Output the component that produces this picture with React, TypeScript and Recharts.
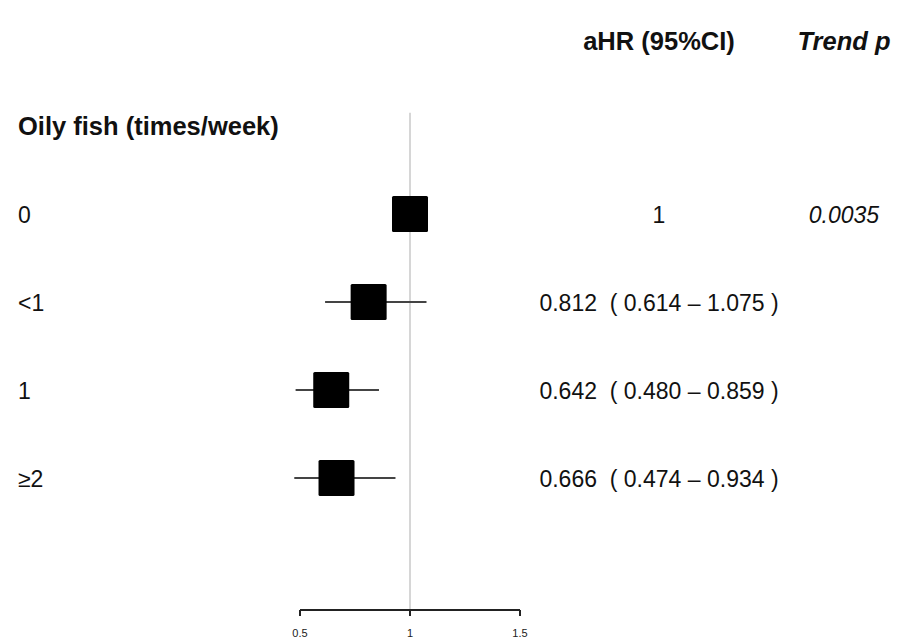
import React from "react";
import {
  ScatterChart,
  Scatter,
  XAxis,
  YAxis,
  ErrorBar,
  ReferenceLine,
} from "recharts";

const groups = ["0", "<1", "1", "≥2"];
const hr = [1, 0.812, 0.642, 0.666];
const lower = [1, 0.614, 0.48, 0.474];
const upper = [1, 1.075, 0.859, 0.934];
const ciText = [
  "1",
  "0.812\u00a0 ( 0.614 – 1.075 )",
  "0.642\u00a0 ( 0.480 – 0.859 )",
  "0.666\u00a0 ( 0.474 – 0.934 )",
];
const trendP = ["0.0035", "", "", ""];
const xTicks = [0.5, 1, 1.5];

const data = groups.map((g, i) => ({
  row: i,
  hr: hr[i],
  err: [hr[i] - lower[i], upper[i] - hr[i]],
}));

// rows holding the text columns (-2 = column headers, -1 = group header)
const textRows = [-2, -1, 0, 1, 2, 3].map((r) => ({ row: r, pos: 0.5 }));

const FONT = "'Liberation Sans', Arial, sans-serif";

const Box = (props: any) => {
  const { cx, cy } = props;
  if (cx == null || cy == null) return null;
  return <rect x={cx - 18} y={cy - 18} width={36} height={36} rx={1.5} fill="#000" />;
};

const XTick = (props: any) => {
  const { x, y, payload } = props;
  return (
    <text x={x} y={y + 19} textAnchor="middle" fontFamily={FONT} fontSize={11} fill="#222">
      {String(payload.value)}
    </text>
  );
};

const RowText = (props: any) => {
  const { cy, payload } = props;
  const v = payload.row;
  const y = cy;
  if (v === -2) {
    return (
      <g fontFamily={FONT} fontWeight="bold" fontSize={25.5} fill="#111">
        <text x={659} y={y + 12} textAnchor="middle">aHR (95%CI)</text>
        <text x={844} y={y + 12} textAnchor="middle" fontStyle="italic">Trend p</text>
      </g>
    );
  }
  if (v === -1) {
    return (
      <text x={18} y={y + 9} fontFamily={FONT} fontWeight="bold" fontSize={25.5} fill="#111">
        Oily fish (times/week)
      </text>
    );
  }
  const i = v as number;
  return (
    <g fontFamily={FONT} fontSize={23} fill="#111">
      <text x={18} y={y + 9}>{groups[i]}</text>
      <text x={659} y={y + 9} textAnchor="middle">{ciText[i]}</text>
      {trendP[i] && (
        <text x={844} y={y + 9} textAnchor="middle" fontStyle="italic">{trendP[i]}</text>
      )}
    </g>
  );
};

export default function App() {
  return (
    <div style={{ position: "absolute", left: 0, top: 0, background: "#fff" }}>
      <ScatterChart
        width={899}
        height={639}
        margin={{ top: 16, right: 379, bottom: 0, left: 300 }}
      >
        <XAxis
          type="number"
          dataKey="hr"
          domain={[0.5, 1.5]}
          ticks={xTicks}
          allowDataOverflow
          height={29}
          tickSize={6}
          stroke="#222"
          strokeWidth={2}
          tick={<XTick />}
        />
        <XAxis xAxisId="txt" type="number" dataKey="pos" domain={[0, 1]} hide />
        <YAxis
          type="number"
          dataKey="row"
          domain={[-2.25, 4.5]}
          reversed
          hide
        />
        <ReferenceLine
          segment={[
            { x: 1, y: -1.15 },
            { x: 1, y: 4.5 },
          ]}
          stroke="#c8c8c8"
          strokeWidth={1.5}
        />
        <Scatter xAxisId="txt" data={textRows} shape={<RowText />} isAnimationActive={false} />
        <Scatter data={data} shape={<Box />} isAnimationActive={false}>
          <ErrorBar dataKey="err" direction="x" width={0} stroke="#444" strokeWidth={2} />
        </Scatter>
      </ScatterChart>
    </div>
  );
}
